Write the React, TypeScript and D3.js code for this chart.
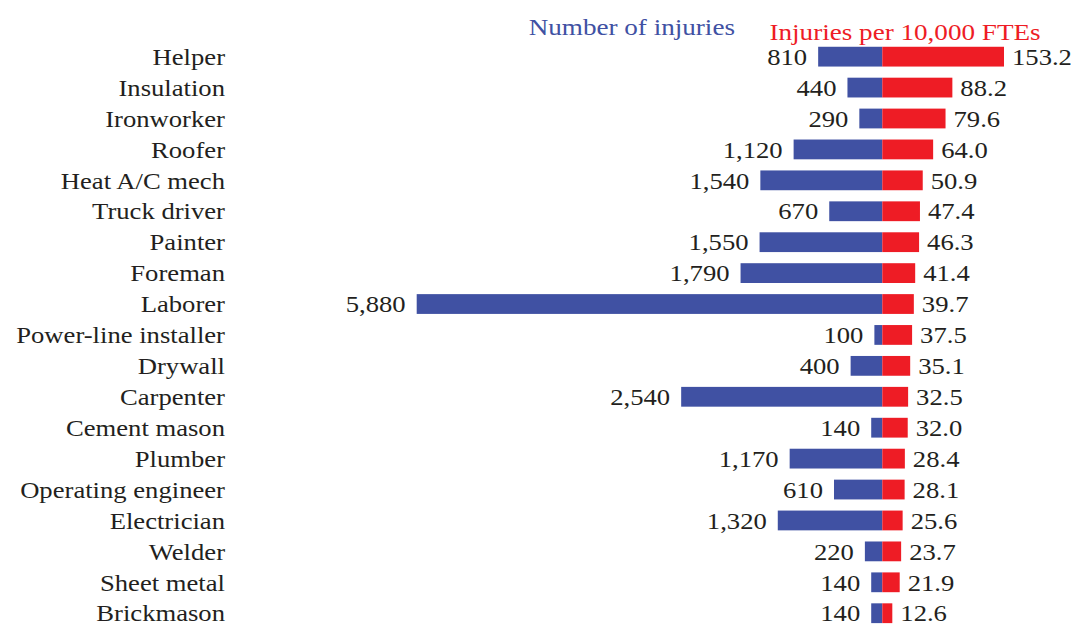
import * as React from 'react';
import * as d3 from 'd3';

const trades = [
  'Helper', 'Insulation', 'Ironworker', 'Roofer', 'Heat A/C mech', 'Truck driver',
  'Painter', 'Foreman', 'Laborer', 'Power-line installer', 'Drywall', 'Carpenter',
  'Cement mason', 'Plumber', 'Operating engineer', 'Electrician', 'Welder',
  'Sheet metal', 'Brickmason',
];
const injuries = [810, 440, 290, 1120, 1540, 670, 1550, 1790, 5880, 100, 400, 2540, 140, 1170, 610, 1320, 220, 140, 140];
const ratePer10k = [153.2, 88.2, 79.6, 64.0, 50.9, 47.4, 46.3, 41.4, 39.7, 37.5, 35.1, 32.5, 32.0, 28.4, 28.1, 25.6, 23.7, 21.9, 12.6];

const W = 1076;
const H = 627;
const center = 882.3;
const BLUE = '#4051a3';
const RED = '#ee1c25';
const INK = '#231f20';
const FONT = '"Liberation Serif", "DejaVu Serif", serif';
const FS = 22.2;
const SX = 1.2; // source text is stretched horizontally

// text with horizontal stretch, anchored at (x, y)
function Txt(p: { x: number; y: number; anchor: string; fill: string; size?: number; children: React.ReactNode }) {
  return (
    <text
      transform={`translate(${p.x},${p.y}) scale(${SX},1)`}
      textAnchor={p.anchor}
      fill={p.fill}
      style={{ fontFamily: FONT, fontSize: p.size || FS }}
    >
      {p.children}
    </text>
  );
}

export default function App() {
  const y = d3.scaleBand<string>()
    .domain(trades)
    .range([41.2, 41.2 + 30.92 * trades.length])
    .paddingInner(0.36)
    .paddingOuter(0.18);
  const xLeft = d3.scaleLinear().domain([0, 5880]).range([center, 416.7]);
  const xRight = d3.scaleLinear().domain([0, 153.2]).range([center, 1004]);
  const fmtN = d3.format(',');
  const fmtR = d3.format('.1f');

  return (
    <div style={{ position: 'absolute', left: 0, top: 0 }}>
      <svg width={W} height={H} style={{ display: 'block', background: '#fff' }}>
        <Txt x={735} y={35} anchor="end" fill={BLUE} size={22.6}>Number of injuries</Txt>
        <Txt x={769.5} y={39.5} anchor="start" fill={RED} size={22.6}>Injuries per 10,000 FTEs</Txt>
        {trades.map((t, i) => {
          const yc = y(t)! + y.bandwidth() / 2;
          const xl = xLeft(injuries[i]);
          const xr = xRight(ratePer10k[i]);
          return (
            <g key={t}>
              <Txt x={225} y={yc + 8.2} anchor="end" fill={INK}>{t}</Txt>
              <rect x={xl} y={y(t)} width={center - xl} height={y.bandwidth()} fill={BLUE} />
              <rect x={center} y={y(t)} width={xr - center} height={y.bandwidth()} fill={RED} />
              <Txt x={xl - 11} y={yc + 8.2} anchor="end" fill={INK}>{fmtN(injuries[i])}</Txt>
              <Txt x={xr + 8} y={yc + 8.2} anchor="start" fill={INK}>{fmtR(ratePer10k[i])}</Txt>
            </g>
          );
        })}
      </svg>
    </div>
  );
}
